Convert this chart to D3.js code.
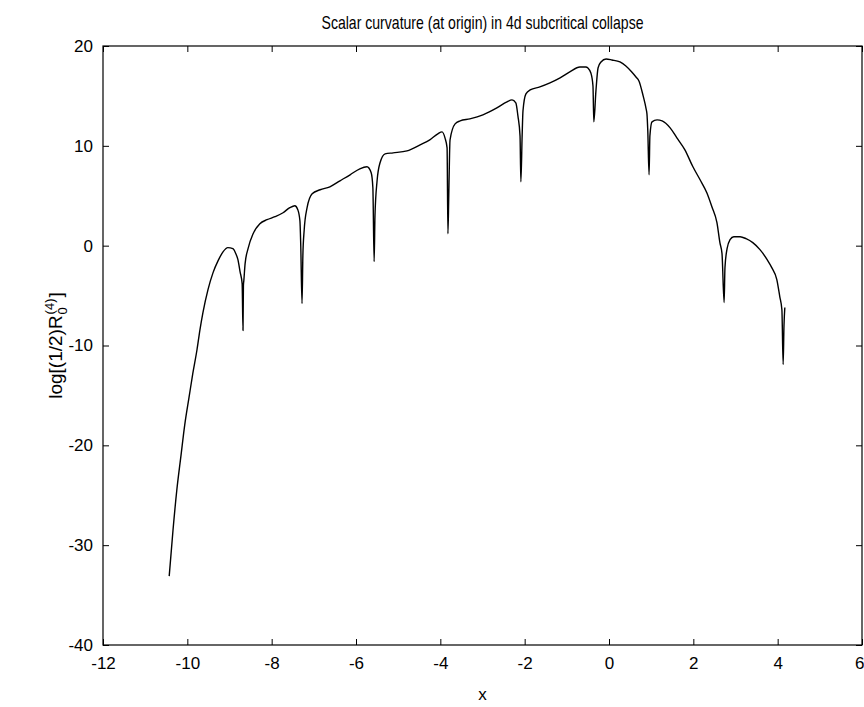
<!DOCTYPE html>
<html>
<head>
<meta charset="utf-8">
<script src="https://cdn.jsdelivr.net/npm/d3@7"></script>
<style>
  html, body { margin: 0; padding: 0; background: #fff; }
  svg { display: block; }
  text { font-family: "Liberation Sans", Arial, Helvetica, sans-serif; fill: #000; }
</style>
</head>
<body>
<svg id="chart" width="864" height="707"></svg>
<script>
// Scalar curvature at the origin versus x (log scale)
const xValues = [
  -10.43, -10.34, -10.25, -10.15, -10.06, -9.96, -9.87, -9.77, -9.70, -9.63,
  -9.51, -9.39, -9.27, -9.15, -9.04, -8.92, -8.85, -8.80, -8.75, -8.70,
  -8.68, -8.67, -8.66, -8.63, -8.56, -8.44, -8.28, -8.11, -7.92, -7.73,
  -7.57, -7.45, -7.38, -7.33, -7.31, -7.28, -7.26, -7.23, -7.16, -7.04,
  -6.85, -6.62, -6.38, -6.14, -5.91, -5.74, -5.64, -5.60, -5.57, -5.55,
  -5.50, -5.43, -5.31, -5.12, -4.79, -4.48, -4.25, -4.06, -3.96, -3.89,
  -3.84, -3.82, -3.80, -3.77, -3.65, -3.53, -3.30, -2.99, -2.66, -2.42,
  -2.30, -2.21, -2.16, -2.11, -2.09, -2.06, -2.04, -1.97, -1.87, -1.64,
  -1.40, -1.16, -0.93, -0.69, -0.55, -0.50, -0.43, -0.38, -0.36, -0.31,
  -0.26, -0.19, -0.07, 0.07, 0.26, 0.40, 0.54, 0.64, 0.71, 0.81,
  0.88, 0.90, 0.92, 0.95, 0.97, 1.02, 1.14, 1.26, 1.45, 1.61,
  1.80, 1.99, 2.16, 2.32, 2.44, 2.56, 2.63, 2.68, 2.73, 2.75,
  2.80, 2.87, 2.96, 3.11, 3.25, 3.41, 3.58, 3.75, 3.86, 3.98,
  4.05, 4.10, 4.13, 4.15, 4.17
];
const yValues = [
  -33.1, -28.5, -24.5, -21.0, -17.9, -15.2, -12.8, -10.4, -8.4, -6.7,
  -4.4, -2.7, -1.5, -0.6, -0.2, -0.3, -0.8, -1.4, -2.6, -3.8,
  -8.5, -4.0, -3.5, -1.8, -0.3, 1.2, 2.2, 2.6, 2.9, 3.3,
  3.8, 4.0, 3.6, 2.5, 0.0, -5.8, -1.0, 1.5, 3.8, 5.2,
  5.6, 5.9, 6.5, 7.1, 7.7, 7.9, 7.3, 5.8, -1.6, 3.0,
  6.5, 8.3, 9.2, 9.3, 9.5, 10.1, 10.6, 11.2, 11.4, 10.8,
  9.8, 1.2, 5.0, 10.6, 12.2, 12.5, 12.7, 13.1, 13.8, 14.4,
  14.6, 14.3, 13.0, 11.0, 6.4, 11.0, 13.5, 15.2, 15.6, 15.9,
  16.3, 16.8, 17.4, 17.9, 17.9, 17.8, 17.3, 16.0, 12.4, 15.5,
  17.8, 18.4, 18.7, 18.6, 18.4, 18.0, 17.4, 16.9, 16.5, 15.0,
  13.7, 13.2, 11.5, 7.1, 11.0, 12.4, 12.6, 12.5, 11.8, 10.8,
  9.6, 7.9, 6.6, 5.3, 3.9, 2.3, 0.3, -0.8, -5.7, -2.2,
  -0.3, 0.6, 0.9, 0.9, 0.7, 0.3, -0.4, -1.4, -2.2, -3.4,
  -5.1, -6.4, -11.9, -8.0, -6.2
];
const xTicks = [-12, -10, -8, -6, -4, -2, 0, 2, 4, 6];
const yTicks = [20, 10, 0, -10, -20, -30, -40];

const titleText = "Scalar curvature (at origin) in 4d subcritical collapse";
const xLabelText = "x";

const svg = d3.select("#chart");
const margin = { left: 103, right: 2, top: 46, bottom: 62 };
const W = 864, H = 707;
const plotW = W - margin.left - margin.right;
const plotH = H - margin.top - margin.bottom;

const x = d3.scaleLinear().domain([-12, 6]).range([0, plotW]);
const y = d3.scaleLinear().domain([-40, 20]).range([plotH, 0]);

const g = svg.append("g").attr("transform", `translate(${margin.left},${margin.top})`);

// curve
const pts = xValues.map((v, i) => [v, yValues[i]]);
g.append("path")
  .datum(pts)
  .attr("fill", "none")
  .attr("stroke", "#000")
  .attr("stroke-width", 1.4)
  .attr("stroke-linejoin", "round")
  .attr("d", d3.line().curve(d3.curveMonotoneX).x(d => x(d[0])).y(d => y(d[1])));

// axes with inward ticks on all four sides
const tickLen = 6;
const styleAxis = sel => {
  sel.select(".domain").remove();
  sel.selectAll(".tick line").attr("stroke", "#000").attr("stroke-width", 1);
  sel.selectAll(".tick text").style("font-size", "17px")
     .style("font-family", "'Liberation Sans', Arial, sans-serif");
};

const bottomAxis = g.append("g").attr("transform", `translate(0,${plotH})`)
  .call(d3.axisBottom(x).tickValues(xTicks).tickSizeInner(-tickLen).tickSizeOuter(0).tickPadding(12).tickFormat(d3.format("d")))
  .call(styleAxis);
g.append("g")
  .call(d3.axisTop(x).tickValues(xTicks).tickSizeInner(-tickLen).tickSizeOuter(0).tickFormat(""))
  .call(styleAxis);
g.append("g")
  .call(d3.axisLeft(y).tickValues(yTicks).tickSizeInner(-tickLen).tickSizeOuter(0).tickPadding(10).tickFormat(d3.format("d")))
  .call(styleAxis);
g.append("g").attr("transform", `translate(${plotW},0)`)
  .call(d3.axisRight(y).tickValues(yTicks).tickSizeInner(-tickLen).tickSizeOuter(0).tickFormat(""))
  .call(styleAxis);

// plain hyphen minus signs
g.selectAll(".tick text").text(function () { return this.textContent.replace("\u2212", "-"); });

// keep the last x label inside the page edge
bottomAxis.selectAll(".tick text").filter(d => d === 6).attr("text-anchor", "end").attr("x", 2);

// frame
g.append("rect")
  .attr("x", 0).attr("y", 0).attr("width", plotW).attr("height", plotH)
  .attr("fill", "none").attr("stroke", "#000").attr("stroke-width", 1.2);

// title
svg.append("text")
  .attr("x", margin.left + plotW / 2).attr("y", 29)
  .attr("text-anchor", "middle")
  .style("font-size", "19px")
  .attr("textLength", 322).attr("lengthAdjust", "spacingAndGlyphs")
  .text(titleText);

// x label
svg.append("text")
  .attr("x", margin.left + plotW / 2).attr("y", 700)
  .attr("text-anchor", "middle")
  .style("font-size", "17px")
  .text(xLabelText);

// y label: log[(1/2)R with stacked sub 0 / sup (4), then ]
const yl = svg.append("g").attr("transform", `translate(62,${margin.top + plotH / 2}) rotate(-90)`);
const t = yl.append("text").style("font-size", "19px").attr("y", 0);
t.append("tspan").text("log[(1/2)R");
const baseW = t.node().getComputedTextLength();
const sup = yl.append("text").style("font-size", "13px").attr("x", baseW + 1).attr("y", -8).text("(4)");
const supW = sup.node().getComputedTextLength();
yl.append("text").style("font-size", "13px").attr("x", baseW + 1).attr("y", 5).text("0");
const closeT = yl.append("text").style("font-size", "19px").attr("x", baseW + supW + 2).attr("y", 0).text("]");
const totalW = baseW + supW + 2 + closeT.node().getComputedTextLength();
yl.selectAll("text").attr("transform", `translate(${-totalW / 2},0)`);
</script>
</body>
</html>
